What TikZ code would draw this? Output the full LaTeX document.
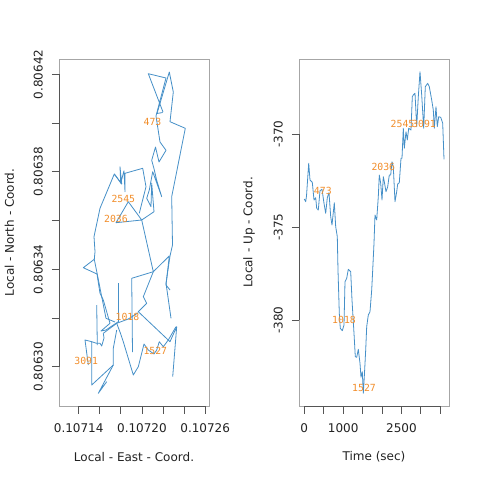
\documentclass[tikz,border=0pt]{standalone}
\usepackage{fontspec}
\setmainfont{DejaVu Sans}
\newfontfamily\lblfont{DejaVu Sans Mono}
\definecolor{trace}{HTML}{4690C8}
\definecolor{mark}{HTML}{F28E2B}
\definecolor{boxgray}{HTML}{A6A6A6}
\definecolor{axisdark}{HTML}{555555}
\definecolor{txt}{HTML}{222222}
\begin{document}
\begin{tikzpicture}[x=1pt,y=-1pt,
  frame/.style={draw=boxgray,line width=0.8pt},
  axisline/.style={draw=axisdark,line width=0.8pt},
  ticklbl/.style={text=txt,inner sep=0pt,font=\fontsize{12}{14}\selectfont},
  axtitle/.style={text=txt,inner sep=0pt,font=\fontsize{12}{14}\selectfont},
  series/.style={draw=trace,line width=0.8pt,line join=round},
  tlabel/.style={text=mark,inner sep=0pt,font=\lblfont\fontsize{9.8}{10}\selectfont}]
\useasboundingbox (0,0) rectangle (480,480);
\fill[white] (0,0) rectangle (480,480);

% ---------------- left panel ----------------
\draw[frame] (59,59) rectangle (209,406);
\draw[axisline] (59,74.3) -- (59,366.7);
\foreach \i in {0,...,6} \draw[axisline] (51.8,{74.3+48.73*\i}) -- (59,{74.3+48.73*\i});
\foreach \i/\t in {0/0.80642,2/0.80638,4/0.80634,6/0.80630}
  \node[ticklbl,rotate=90] (ly\i) at (38.3,{74.3+48.73*\i}) {\t};
\draw[axisline] (78.7,406) -- (205.2,406);
\foreach \i in {0,...,6} \draw[axisline] ({78.7+21.08*\i},406) -- ({78.7+21.08*\i},413.5);
\foreach \i/\t in {0/0.10714,3/0.10720,6/0.10726}
  \node[ticklbl] (lx\i) at ({78.7+21.08*\i},427.7) {\t};
\node[axtitle] (lxt) at (134,456.7) {Local - East - Coord.};
\node[axtitle,rotate=90] (lyt) at (9.5,232.5) {Local - North - Coord.};

% trajectory
\draw[series] (162.7,112.5) -- (157,113.5) -- (169.3,72) -- (173.3,92) -- (170,121.7) -- (185.3,128.3) -- (171.7,196.7) -- (172.5,245) -- (170,256) -- (166,283.3) -- (171,318.3);
\draw[series] (163,112) -- (148.3,73.7) -- (166,78) -- (156,116) -- (160,142) -- (166,150.3) -- (159,162) -- (155.5,147) -- (151.7,160.3) -- (154,168.7) -- (156.7,180.3) -- (161.7,196.7) -- (152.7,171.7) -- (149.3,190) -- (146.7,198.3) -- (151,206.7) -- (151.7,183.3) -- (154,211.7) -- (141.7,220) -- (116,222.7) -- (128.3,201.7) -- (141.7,220) -- (153.3,271.7) -- (169.3,256) -- (166,285) -- (170,290);
\draw[series] (114.3,174) -- (121.7,184) -- (120,166.7) -- (120.7,183.3) -- (124,170.7) -- (125,191.7) -- (125,173.3) -- (142.7,168.3) -- (146,186.7) -- (139.3,213.3);
\draw[series] (121.7,184) -- (114.3,174) -- (100,208.3) -- (94,236.7) -- (95,251.7) -- (94.3,259.3) -- (83.3,267.7) -- (97,274) -- (100,293.3) -- (103.3,300) -- (110,323.3);
\draw[series] (94.3,259.3) -- (99,283) -- (106,318.3) -- (115,322);
\draw[series] (153.3,271.7) -- (143.3,296.7) -- (146.7,303.3) -- (138.3,311.7) -- (170,341.7) -- (176.7,326.7) -- (172.7,376.7);
\draw[series] (153.3,271.7) -- (131.7,278.3) -- (132.5,352);
\draw[series] (118.3,283.3) -- (118.3,321.7);
\draw[series] (103.3,333.3) -- (116.7,323.3) -- (128.3,319) -- (138.3,312.7);
\draw[series] (110,323.3) -- (101,331) -- (106,330) -- (118.3,321.7);
\draw[series] (116.7,323.3) -- (120,332) -- (123.3,341.7) -- (133.3,375) -- (138.3,366.7) -- (144,344) -- (148.3,350) -- (154,354) -- (156.7,350) -- (159.3,341.7) -- (163.3,346.7) -- (168.3,340) -- (176,326.7);
\draw[series] (116.7,330) -- (113.3,348.3) -- (113.3,365) -- (91.7,385) -- (91.7,341.7) -- (85,340) -- (88.3,365);
\draw[series] (91.7,341.7) -- (96.7,343.3) -- (100,343.3) -- (101.7,346) -- (104,338) -- (103.3,333.3);
\draw[series] (96.7,305) -- (97.3,345);
\draw[series] (113.3,365) -- (98.3,393.3) -- (106.7,381.7);

\node[tlabel] (l473) at (152.5,121.7) {473};
\node[tlabel] (l2545) at (123.3,199) {2545};
\node[tlabel] (l2036) at (116,218.7) {2036};
\node[tlabel] (l1018) at (127.5,317.3) {1018};
\node[tlabel] (l1527) at (155.3,350.7) {1527};
\node[tlabel] (l3091) at (86.2,361.3) {3091};

% ---------------- right panel ----------------
\draw[frame] (299,59) rectangle (449.3,406);
\draw[axisline] (299,134.3) -- (299,320.3);
\foreach \i in {0,1,2} \draw[axisline] (291.8,{134.3+93*\i}) -- (299,{134.3+93*\i});
\foreach \i/\t in {0/-370,1/-375,2/-380}
  \node[ticklbl,rotate=90] (ry\i) at (278.3,{134.3+93*\i}) {\t};
\draw[axisline] (304.3,406) -- (440.3,406);
\foreach \i in {0,...,7} \draw[axisline] ({304.3+19.43*\i},406) -- ({304.3+19.43*\i},413.5);
\foreach \i/\t in {0/0,2/1000,5/2500}
  \node[ticklbl] (rx\i) at ({304.3+19.43*\i},427.7) {\t};
\node[axtitle] (rxt) at (374,456.7) {Time (sec)};
\node[axtitle,rotate=90] (ryt) at (249,232.5) {Local - Up - Coord.};

\draw[series] (304.3,199) -- (305.7,201.7) -- (306.5,196) -- (308.7,163.3) -- (310,180) -- (312.3,182.3) -- (314,200) -- (315.7,197.7) -- (316.7,208.3) -- (318.3,210) -- (320,190.7) -- (322,189.3) -- (324,203.3) -- (325.7,213.3) -- (327.3,197.7) -- (329,192.7) -- (330.7,216.7) -- (332,225) -- (334.3,202.7) -- (335.7,226.7) -- (337.3,236.7) -- (338,270) -- (339.3,313.3) -- (340.3,328.3) -- (342.3,330.7) -- (344,325) -- (345,281.7) -- (346.7,278.3) -- (348.3,269.3) -- (350.7,271.7) -- (352,300) -- (354,333.3) -- (355.3,356.7) -- (356.7,357.3) -- (358.3,349.3) -- (360,363.3) -- (361,377.3) -- (362.3,371.7) -- (363.3,393.3) -- (364.3,376.7) -- (365.7,350) -- (366.7,326.7) -- (368.3,315) -- (370,311.7) -- (371.7,290) -- (372.7,270) -- (374,243.3) -- (375,215) -- (376.7,220) -- (378.3,196.7) -- (379.3,175) -- (380.7,183.3) -- (382,200) -- (383.3,176.7) -- (384.3,181.7) -- (386,191.7) -- (387.7,186.7) -- (389.3,175) -- (390.7,175) -- (392,161.7) -- (393.3,166.7) -- (395,201.7) -- (396.7,191.7) -- (397.7,184) -- (399.3,182.7) -- (401,158.3) -- (402,158.3) -- (403.3,128.3) -- (404.3,148.3) -- (406,131.7) -- (407.3,140) -- (408.7,128.3) -- (411,130) -- (412.3,96.7) -- (413.3,95) -- (415,93.3) -- (416.7,126.7) -- (418.3,96.7) -- (420,71.7) -- (421.7,95) -- (423.7,128.3) -- (425.3,86.7) -- (427.7,83.3) -- (429.3,86.7) -- (431.7,100) -- (433.3,110) -- (434.3,128.3) -- (436,106.7) -- (437.3,126.7) -- (438.7,116.7) -- (440.7,117.3) -- (442.7,123.3) -- (444,159.3);

\node[tlabel] (r473) at (322.8,190.7) {473};
\node[tlabel] (r1018) at (344,319.7) {1018};
\node[tlabel] (r1527) at (364,388.3) {1527};
\node[tlabel] (r2036) at (383.3,166.7) {2036};
\node[tlabel] (r2545) at (402.5,123.7) {2545};
\node[tlabel] (r3091) at (424,123.7) {3091};
\end{tikzpicture}
\end{document}
